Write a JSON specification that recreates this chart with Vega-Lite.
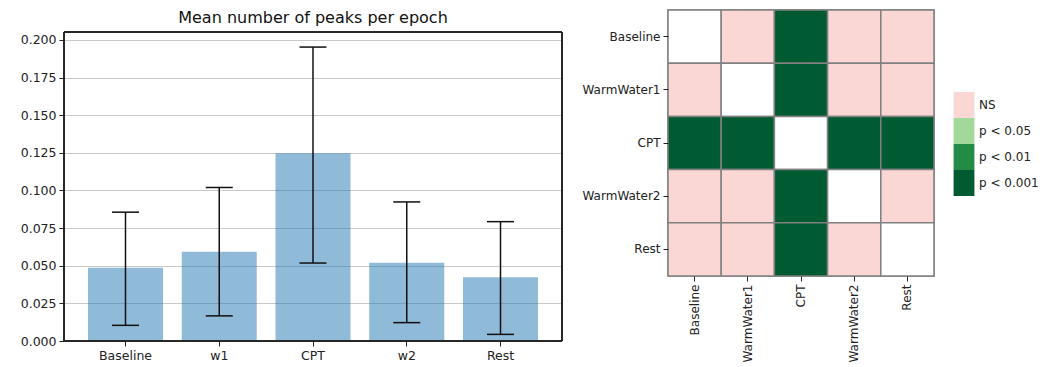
{
  "$schema": "https://vega.github.io/schema/vega-lite/v6.json",
  "padding": {"left": 20, "top": 8, "right": 5, "bottom": 0},
  "config": {
    "font": "DejaVu Sans",
    "axis": {"labelColor": "#222222", "tickColor": "#222222", "labelFont": "DejaVu Sans", "titleFont": "DejaVu Sans"},
    "legend": {"labelFont": "DejaVu Sans"},
    "view": {"stroke": null}
  },
  "spacing": 18,
  "resolve": {"legend": {"color": "independent"}},
  "hconcat": [
    {
      "width": 498,
      "height": 331,
      "title": {"text": "Mean number of peaks per epoch", "fontSize": 16, "fontWeight": "normal", "offset": -16, "color": "#111111", "font": "DejaVu Sans"},
      "data": {"values": [
        {"cond": "Baseline", "mean": 0.0487, "lo": 0.0104, "hi": 0.0856},
        {"cond": "w1", "mean": 0.0593, "lo": 0.0167, "hi": 0.102},
        {"cond": "CPT", "mean": 0.1247, "lo": 0.0518, "hi": 0.1953},
        {"cond": "w2", "mean": 0.052, "lo": 0.0122, "hi": 0.0924},
        {"cond": "Rest", "mean": 0.0424, "lo": 0.0044, "hi": 0.0793}
      ]},
      "resolve": {"scale": {"x": "independent"}, "axis": {"x": "independent"}},
      "layer": [
        {
          "encoding": {
            "x": {
              "field": "cond", "type": "nominal", "sort": null, "title": null,
              "scale": {"type": "band", "paddingInner": 0.2, "paddingOuter": 0.256},
              "axis": {"labelAngle": 0, "labelFontSize": 12.5, "domain": false, "tickSize": 5, "grid": false, "labelPadding": 3}
            }
          },
          "layer": [
            {
              "mark": {"type": "bar", "color": "#1f77b4", "opacity": 0.5},
              "encoding": {
                "y": {
                  "field": "mean", "type": "quantitative", "title": null,
                  "scale": {"domain": [0, 0.21993], "nice": false, "zero": true},
                  "axis": {"values": [0, 0.025, 0.05, 0.075, 0.1, 0.125, 0.15, 0.175, 0.2], "format": ".3f", "labelFontSize": 12.5, "labelOverlap": false, "domain": false, "tickSize": 5, "grid": true, "gridColor": "#c8c8c8", "gridWidth": 1, "labelPadding": 3}
                }
              }
            },
            {
              "mark": {"type": "rule", "color": "#111111", "strokeWidth": 1.5},
              "encoding": {"y": {"field": "lo", "type": "quantitative"}, "y2": {"field": "hi"}}
            },
            {
              "mark": {"type": "tick", "color": "#111111", "size": 27, "thickness": 1.5, "opacity": 1},
              "encoding": {"y": {"field": "lo", "type": "quantitative"}}
            },
            {
              "mark": {"type": "tick", "color": "#111111", "size": 27, "thickness": 1.5, "opacity": 1},
              "encoding": {"y": {"field": "hi", "type": "quantitative"}}
            }
          ]
        },
        {
          "mark": {"type": "rect", "filled": false, "stroke": "#222222", "strokeWidth": 1},
          "encoding": {
            "x": {"datum": 0, "type": "quantitative", "scale": {"domain": [0, 1], "nice": false, "zero": false}, "axis": null},
            "x2": {"datum": 1},
            "y": {"datum": 0, "type": "quantitative"},
            "y2": {"datum": 0.2053}
          }
        }
      ]
    },
    {
      "width": 266,
      "height": 266,
      "data": {"values": [
        {"row": "Baseline", "col": "Baseline", "sig": "none"},
        {"row": "Baseline", "col": "WarmWater1", "sig": "NS"},
        {"row": "Baseline", "col": "CPT", "sig": "p < 0.001"},
        {"row": "Baseline", "col": "WarmWater2", "sig": "NS"},
        {"row": "Baseline", "col": "Rest", "sig": "NS"},
        {"row": "WarmWater1", "col": "Baseline", "sig": "NS"},
        {"row": "WarmWater1", "col": "WarmWater1", "sig": "none"},
        {"row": "WarmWater1", "col": "CPT", "sig": "p < 0.001"},
        {"row": "WarmWater1", "col": "WarmWater2", "sig": "NS"},
        {"row": "WarmWater1", "col": "Rest", "sig": "NS"},
        {"row": "CPT", "col": "Baseline", "sig": "p < 0.001"},
        {"row": "CPT", "col": "WarmWater1", "sig": "p < 0.001"},
        {"row": "CPT", "col": "CPT", "sig": "none"},
        {"row": "CPT", "col": "WarmWater2", "sig": "p < 0.001"},
        {"row": "CPT", "col": "Rest", "sig": "p < 0.001"},
        {"row": "WarmWater2", "col": "Baseline", "sig": "NS"},
        {"row": "WarmWater2", "col": "WarmWater1", "sig": "NS"},
        {"row": "WarmWater2", "col": "CPT", "sig": "p < 0.001"},
        {"row": "WarmWater2", "col": "WarmWater2", "sig": "none"},
        {"row": "WarmWater2", "col": "Rest", "sig": "NS"},
        {"row": "Rest", "col": "Baseline", "sig": "NS"},
        {"row": "Rest", "col": "WarmWater1", "sig": "NS"},
        {"row": "Rest", "col": "CPT", "sig": "p < 0.001"},
        {"row": "Rest", "col": "WarmWater2", "sig": "NS"},
        {"row": "Rest", "col": "Rest", "sig": "none"}
      ]},
      "view": {"stroke": "#808080", "strokeWidth": 1.5},
      "mark": {"type": "rect", "stroke": "#808080", "strokeWidth": 1.5},
      "encoding": {
        "x": {
          "field": "col", "type": "nominal", "title": null,
          "sort": ["Baseline", "WarmWater1", "CPT", "WarmWater2", "Rest"],
          "axis": {"labelAngle": 270, "labelFontSize": 12, "domain": false, "tickSize": 5, "labelPadding": 3}
        },
        "y": {
          "field": "row", "type": "nominal", "title": null,
          "sort": ["Baseline", "WarmWater1", "CPT", "WarmWater2", "Rest"],
          "axis": {"labelFontSize": 12, "domain": false, "tickSize": 5, "labelPadding": 3}
        },
        "color": {
          "field": "sig", "type": "nominal",
          "scale": {"domain": ["NS", "p < 0.05", "p < 0.01", "p < 0.001", "none"], "range": ["#fad7d4", "#a1d99b", "#238b45", "#005a32", "#ffffff"]},
          "legend": {
            "values": ["NS", "p < 0.05", "p < 0.01", "p < 0.001"],
            "title": null, "orient": "none", "legendX": 283, "legendY": 82,
            "symbolType": "M-0.8,-1H0.8V1H-0.8Z", "symbolSize": 676, "symbolStrokeWidth": 0,
            "symbolOpacity": 1, "rowPadding": 0, "labelFontSize": 12, "labelOffset": 2, "padding": 0,
            "labelColor": "#222222"
          }
        }
      }
    }
  ]
}
